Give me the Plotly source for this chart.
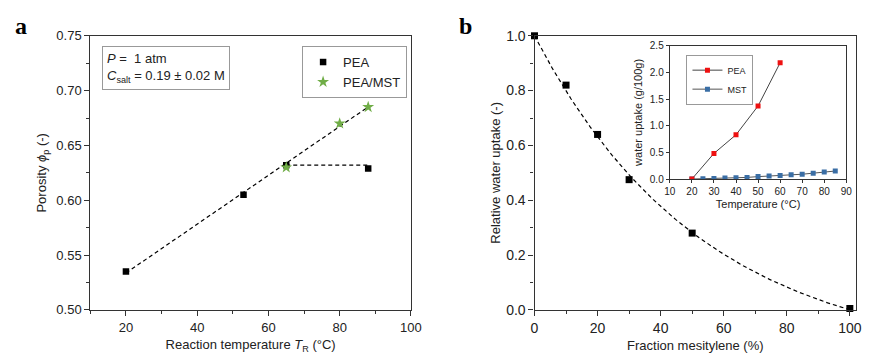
import numpy as np
import plotly.graph_objects as go

# ---- Panel a data ----
pea_T = [20, 53, 65, 88]
pea_phi = [0.535, 0.605, 0.632, 0.629]
mst_T = [65, 80, 88]
mst_phi = [0.630, 0.670, 0.685]

# ---- Panel b data ----
mes_frac = [0, 10, 20, 30, 50, 100]
rel_uptake = [1.0, 0.82, 0.64, 0.475, 0.28, 0.005]

# ---- Inset data ----
ins_pea_T = [20, 30, 40, 50, 60]
ins_pea_w = [0.0, 0.48, 0.83, 1.37, 2.18]
ins_mst_T = [20, 25, 30, 35, 40, 45, 50, 55, 60, 65, 70, 75, 80, 85]
ins_mst_w = [0.0, 0.005, 0.01, 0.02, 0.025, 0.03, 0.045, 0.055, 0.065, 0.08, 0.09, 0.11, 0.13, 0.15]

FONT = "Liberation Sans, Arial, sans-serif"
AX = "#333333"
DASH = "4px,3px"

fig = go.Figure()

# Panel a: linear fit through the rising points
fit_x = np.array(pea_T[:3] + mst_T[1:])
fit_y = np.array(pea_phi[:3] + mst_phi[1:])
p = np.polyfit(fit_x, fit_y, 1)
lx = np.array([min(pea_T), max(mst_T)])
fig.add_trace(go.Scatter(x=lx, y=np.polyval(p, lx), mode="lines",
                         line=dict(color="black", dash=DASH, width=1.2),
                         showlegend=False, xaxis="x", yaxis="y"))
fig.add_trace(go.Scatter(x=pea_T[2:], y=[pea_phi[2]] * 2, mode="lines",
                         line=dict(color="black", dash=DASH, width=1.2),
                         showlegend=False, xaxis="x", yaxis="y"))
fig.add_trace(go.Scatter(x=pea_T, y=pea_phi, mode="markers", name="PEA",
                         marker=dict(symbol="square", color="black", size=6.5),
                         legend="legend", xaxis="x", yaxis="y"))
fig.add_trace(go.Scatter(x=mst_T, y=mst_phi, mode="markers", name="PEA/MST",
                         marker=dict(symbol="star", color="#70AD47", size=9),
                         legend="legend", xaxis="x", yaxis="y"))

# Panel b: exponential-type fit curve
xb = np.array(mes_frac, dtype=float)
yb = np.array(rel_uptake)
best_k, best_err = None, 1e9
for k in np.linspace(0.001, 0.08, 800):
    e100 = np.exp(-100 * k)
    f = (np.exp(-k * xb) - e100) / (1 - e100)
    err = np.sum((f - yb) ** 2)
    if err < best_err:
        best_k, best_err = k, err
cx = np.linspace(0, 100, 200)
e100 = np.exp(-100 * best_k)
cy = (np.exp(-best_k * cx) - e100) / (1 - e100)
fig.add_trace(go.Scatter(x=cx, y=cy, mode="lines",
                         line=dict(color="black", dash=DASH, width=1.2),
                         showlegend=False, xaxis="x2", yaxis="y2", cliponaxis=False))
fig.add_trace(go.Scatter(x=mes_frac, y=rel_uptake, mode="markers",
                         marker=dict(symbol="square", color="black", size=7),
                         showlegend=False, xaxis="x2", yaxis="y2", cliponaxis=False))

# Inset
fig.add_trace(go.Scatter(x=ins_mst_T, y=ins_mst_w, mode="lines+markers", name="MST",
                         line=dict(color="#555555", width=1),
                         marker=dict(symbol="square", color="#3A6EA5", size=5),
                         legend="legend2", xaxis="x3", yaxis="y3"))
fig.add_trace(go.Scatter(x=ins_pea_T, y=ins_pea_w, mode="lines+markers", name="PEA",
                         line=dict(color="#444444", width=1),
                         marker=dict(symbol="square", color="#EE1111", size=5),
                         legend="legend2", xaxis="x3", yaxis="y3"))

def axis(domain, rng, dtick, minor_dtick, anchor, fs=13, ticklen=5, mlen=3, title=None,
         tfs=13, standoff=6, fmt=None):
    d = dict(domain=domain, range=rng, dtick=dtick, tick0=0, anchor=anchor,
             showline=True, linecolor=AX, linewidth=1.2, mirror=True,
             ticks="outside", ticklen=ticklen, tickcolor=AX, showgrid=False, zeroline=False,
             tickfont=dict(family=FONT, size=fs, color="#222"),
             minor=dict(dtick=minor_dtick, ticks="outside" if mlen else "", ticklen=max(mlen, 1),
                        tickcolor=AX, showgrid=False))
    if fmt:
        d["tickformat"] = fmt
    if title:
        d["title"] = dict(text=title, font=dict(family=FONT, size=tfs, color="#222"), standoff=standoff)
    return d

fig.update_layout(
    width=874, height=359, margin=dict(l=0, r=0, t=0, b=0),
    paper_bgcolor="white", plot_bgcolor="white",
    xaxis=axis([0.0984, 0.4725], [10, 100], 20, 10, "y",
               title="Reaction temperature <i>T</i><sub>R</sub> (°C)"),
    yaxis=axis([0.12, 0.919], [0.50, 0.75], 0.05, 0.025, "x", fmt=".2f",
               title="Porosity <i>ϕ</i><sub>p</sub> (-)"),
    xaxis2=axis([0.6167, 0.992], [0, 102], 20, 10, "y2", fs=14,
                title="Fraction mesitylene (%)"),
    yaxis2=axis([0.12, 0.919], [0, 1.0], 0.2, 0.1, "x2", fs=14, fmt=".1f", standoff=2,
                title="Relative water uptake (-)"),
    xaxis3=axis([0.7746, 0.9805], [10, 90], 10, 5, "y3", fs=10, ticklen=3, mlen=0,
                title="Temperature (°C)", tfs=11, standoff=4),
    yaxis3=axis([0.5014, 0.89], [0, 2.5], 0.5, 0.25, "x3", fs=10, ticklen=3, mlen=0, fmt=".1f",
                title="water uptake (g/100g)", tfs=11, standoff=4),
    legend=dict(x=0.3455, y=0.889, xanchor="left", yanchor="top", bgcolor="white",
                bordercolor="#999", borderwidth=1, font=dict(family=FONT, size=13, color="#222"),
                tracegroupgap=0, itemwidth=30),
    legend2=dict(x=0.794, y=0.864, xanchor="left", yanchor="top", bgcolor="white",
                 bordercolor="#999", borderwidth=1, font=dict(family=FONT, size=9, color="#222"),
                 tracegroupgap=0, itemwidth=30, traceorder="reversed"),
    showlegend=True,
)

fig.add_annotation(xref="paper", yref="paper", x=0.112, y=0.888, xanchor="left", yanchor="top",
                   text="<i>P</i> =  1 atm<br><i>C</i><sub>salt</sub> = 0.19 ± 0.02 M",
                   showarrow=False, align="left", bordercolor="#999", borderwidth=1,
                   borderpad=4, bgcolor="white", font=dict(family=FONT, size=13, color="#222"))
fig.add_annotation(xref="paper", yref="paper", x=0.008, y=0.99, xanchor="left", yanchor="top",
                   text="<b>a</b>", showarrow=False,
                   font=dict(family="Liberation Serif, Times New Roman, serif", size=24, color="black"))
fig.add_annotation(xref="paper", yref="paper", x=0.526, y=0.99, xanchor="left", yanchor="top",
                   text="<b>b</b>", showarrow=False,
                   font=dict(family="Liberation Serif, Times New Roman, serif", size=24, color="black"))

fig.write_html("out.html")
